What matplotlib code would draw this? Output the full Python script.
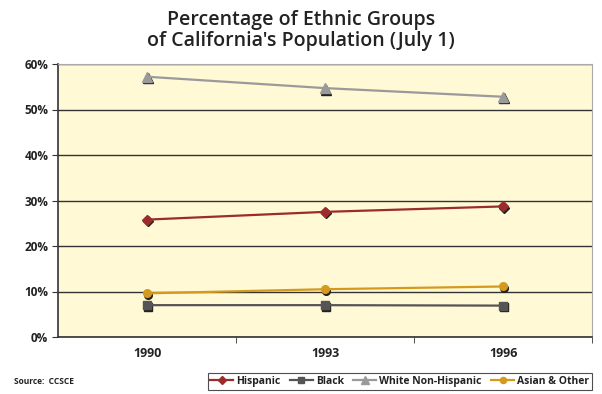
import matplotlib
matplotlib.use("Agg")
import matplotlib.pyplot as plt
import matplotlib.transforms as mtransforms
import numpy as np

years = ["1990", "1993", "1996"]
hispanic = [25.8, 27.5, 28.7]
black = [7.0, 7.0, 6.9]
white = [57.2, 54.7, 52.8]
asian = [9.6, 10.5, 11.1]

series = [
    ("Hispanic", hispanic, "#9B2C2C", "D", 5),
    ("Black", black, "#555555", "s", 5.5),
    ("White Non-Hispanic", white, "#9A9A9A", "^", 6.5),
    ("Asian & Other", asian, "#D49A1E", "o", 5.5),
]

plt.rcParams['font.family'] = ['Open Sans', 'DejaVu Sans']

fig = plt.figure(figsize=(6.02, 3.94), dpi=100)
ax = fig.add_axes([58/602, 57/394, 534/602, 273/394])
ax.set_facecolor("#FFF9D6")

x = np.arange(len(years))
for name, vals, col, mk, ms in series:
    shadow = mtransforms.offset_copy(ax.transData, fig=fig, x=1.0, y=-1.0, units='points')
    ax.plot(x, vals, linestyle='none', marker=mk, markersize=ms, color="#222222",
            transform=shadow, zorder=3)
    ax.plot(x, vals, color=col, linewidth=1.6, marker=mk, markersize=ms,
            markeredgecolor=col, label=name, zorder=4)

ax.set_xlim(-0.5, 2.5)
ax.set_ylim(0, 60)
ax.set_yticks(np.arange(0, 61, 10))
ax.set_yticklabels([f"{v}%" for v in range(0, 61, 10)], fontsize=8.5, fontweight='bold', color="#222222")
ax.set_xticks(x)
ax.set_xticklabels(years, fontsize=9, fontweight='bold', color="#222222")
ax.tick_params(axis='x', which='major', length=0, pad=7)
ax.set_xticks([0.5, 1.5, 2.5], minor=True)
ax.tick_params(axis='x', which='minor', length=4, direction='out', color="#333333")
ax.tick_params(axis='y', length=4, direction='out', color="#333333", pad=3)

ax.yaxis.grid(True, color="#333333", linewidth=1)
ax.set_axisbelow(True)
for s in ['top', 'right']:
    ax.spines[s].set_color("#AAAAAA")
for s in ['left', 'bottom']:
    ax.spines[s].set_color("#333333")
    ax.spines[s].set_linewidth(1.2)

fig.text(0.5, 0.975, "Percentage of Ethnic Groups\nof California's Population (July 1)",
         ha='center', va='top', fontsize=14, fontweight='semibold', color="#222222",
         linespacing=1.1)

fig.text(14/602, 1 - 382/394, "Source:  CCSCE", fontsize=6, fontweight='bold',
         color="#222222", va='center', ha='left')

leg = fig.legend(loc='center right', bbox_to_anchor=(597/602, 1 - 381.5/394), ncol=4,
                 fontsize=7.5, frameon=True, fancybox=False, edgecolor="#222222",
                 handlelength=2.2, handletextpad=0.3, columnspacing=0.9,
                 borderpad=0.25, markerscale=0.8)
leg.get_frame().set_linewidth(0.8)
for t in leg.get_texts():
    t.set_fontweight('bold')
    t.set_color("#222222")

fig.savefig("out.png", dpi=100)
